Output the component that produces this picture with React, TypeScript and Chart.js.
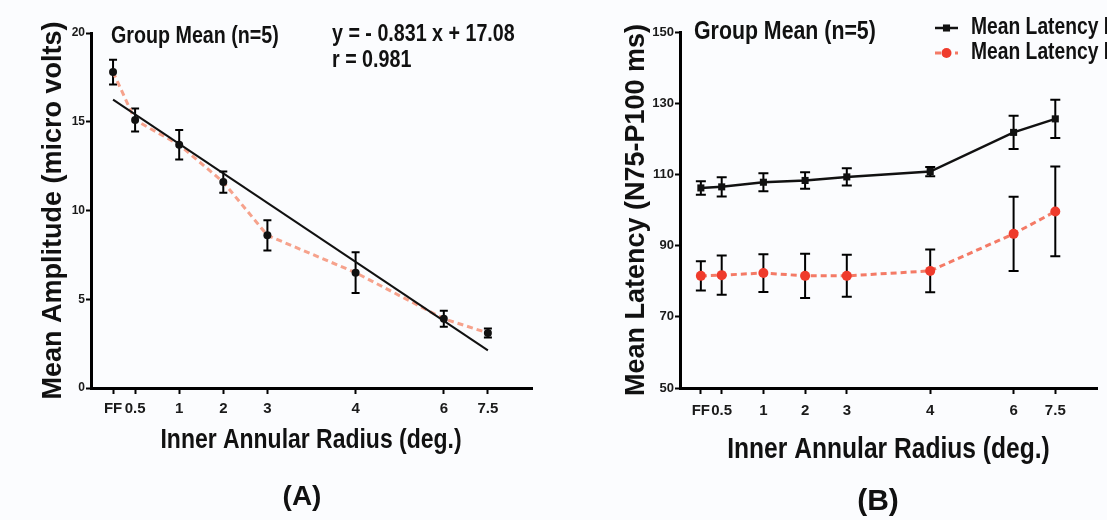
import React, { useEffect, useRef } from "react";
import { Chart, registerables } from "chart.js";

Chart.register(...registerables);

// ---------- data ----------
const radiusLabels = ["FF", "0.5", "1", "2", "3", "4", "6", "7.5"];
const radiusPositions = [1, 2, 4, 6, 8, 12, 16, 18];

const amplitudeMean = [17.8, 15.1, 13.7, 11.6, 8.6, 6.5, 3.9, 3.1];
const amplitudeErr = [0.7, 0.65, 0.83, 0.6, 0.85, 1.15, 0.45, 0.25];
const REG_SLOPE = -0.831;
const REG_INTERCEPT = 17.08;
const regressionX = [1, 18];

const latencyP100Mean = [106.2, 106.5, 107.8, 108.3, 109.3, 110.8, 121.8, 125.6];
const latencyP100Err = [1.9, 2.7, 2.5, 2.3, 2.4, 1.3, 4.7, 5.4];
const latencyN75Mean = [81.5, 81.7, 82.3, 81.5, 81.5, 82.9, 93.3, 99.6];
const latencyN75Err = [4.1, 5.5, 5.3, 6.2, 5.9, 6.0, 10.4, 12.6];

const amplitudeTicks = [0, 5, 10, 15, 20];
const latencyTicks = [50, 70, 90, 110, 130, 150];

// ---------- style ----------
const ARIAL = '"Liberation Sans", Arial, sans-serif';
const NARROW_SX = 0.82;
const BG = "#fbfcfe";

// ---------- plugins ----------
const errorBarPlugin = {
  id: "errorBars",
  beforeDatasetsDraw(chart: any) {
    const ctx = chart.ctx;
    const yScale = chart.scales.y;
    chart.data.datasets.forEach((ds: any, i: number) => {
      if (!ds.errors) return;
      const meta = chart.getDatasetMeta(i);
      ctx.save();
      ctx.strokeStyle = ds.errorColor || "#000";
      ctx.lineWidth = ds.errorWidth || 2;
      const cap = ds.capHalf || 4;
      meta.data.forEach((el: any, j: number) => {
        const v = ds.data[j].y;
        const e = ds.errors[j];
        const yt = yScale.getPixelForValue(v + e);
        const yb = yScale.getPixelForValue(v - e);
        const x = el.x;
        ctx.beginPath();
        ctx.moveTo(x, yt);
        ctx.lineTo(x, yb);
        ctx.moveTo(x - cap, yt);
        ctx.lineTo(x + cap, yt);
        ctx.moveTo(x - cap, yb);
        ctx.lineTo(x + cap, yb);
        ctx.stroke();
      });
      ctx.restore();
    });
  },
};

function drawText(ctx: any, it: any) {
  ctx.save();
  ctx.font = it.font;
  ctx.fillStyle = it.color || "#111";
  ctx.textAlign = it.align || "left";
  ctx.textBaseline = "middle";
  ctx.translate(it.x, it.y);
  ctx.scale(it.sx || 1, 1);
  ctx.fillText(it.text, 0, 0);
  ctx.restore();
}

const textPlugin = {
  id: "texts",
  afterDraw(chart: any, _args: any, opts: any) {
    (opts.items || []).forEach((it: any) => drawText(chart.ctx, it));
  },
};

const legendPlugin = {
  id: "floatLegend",
  afterDraw(chart: any, _args: any, opts: any) {
    if (!opts.display) return;
    const ctx = chart.ctx;
    chart.data.datasets.forEach((ds: any, i: number) => {
      const y = opts.y + i * opts.rowGap;
      const x0 = opts.x;
      const x1 = opts.x + opts.lineLength;
      ctx.save();
      ctx.strokeStyle = ds.borderColor;
      ctx.lineWidth = ds.borderWidth;
      ctx.setLineDash(ds.borderDash || []);
      ctx.beginPath();
      ctx.moveTo(x0, y);
      ctx.lineTo(x1, y);
      ctx.stroke();
      ctx.setLineDash([]);
      const cx = (x0 + x1) / 2;
      ctx.fillStyle = ds.pointBackgroundColor;
      if (ds.pointStyle === "rect") {
        const s = ds.pointRadius * Math.SQRT1_2;
        ctx.fillRect(cx - s, y - s, 2 * s, 2 * s);
      } else {
        ctx.beginPath();
        ctx.arc(cx, y, ds.pointRadius, 0, Math.PI * 2);
        ctx.fill();
      }
      ctx.restore();
      drawText(ctx, { text: ds.label, x: opts.textX, y, font: opts.font, sx: NARROW_SX });
    });
  },
};

function toPoints(vals: number[]) {
  return vals.map((v, i) => ({ x: radiusPositions[i], y: v }));
}

function xScale(height: number, pad: number) {
  return {
    type: "linear",
    min: 0,
    max: 20,
    afterBuildTicks: (s: any) => {
      s.ticks = radiusPositions.map((v) => ({ value: v }));
    },
    afterFit: (s: any) => {
      s.height = height;
    },
    ticks: {
      autoSkip: false,
      maxRotation: 0,
      padding: pad,
      color: "#1a1a1a",
      font: { family: ARIAL, size: 15, weight: "bold" },
      callback: (_v: any, i: number) => radiusLabels[i],
    },
    grid: {
      display: true,
      drawOnChartArea: false,
      drawTicks: true,
      tickLength: 6,
      tickWidth: 2,
      tickColor: "#000",
    },
    border: { display: true, color: "#000", width: 3 },
    title: { display: false },
  };
}

function yScale(min: number, max: number, ticks: number[], width: number, title: string, titlePad: number, tickSize: number) {
  return {
    type: "linear",
    min,
    max,
    afterBuildTicks: (s: any) => {
      s.ticks = ticks.map((v) => ({ value: v }));
    },
    afterFit: (s: any) => {
      s.width = width;
    },
    ticks: {
      padding: 1,
      color: "#1a1a1a",
      font: { family: ARIAL, size: tickSize, weight: "bold" },
    },
    grid: {
      display: true,
      drawOnChartArea: false,
      drawTicks: true,
      tickLength: 5,
      tickWidth: 2,
      tickColor: "#000",
    },
    border: { display: true, color: "#000", width: 3 },
    title: {
      display: true,
      text: title,
      color: "#111",
      font: { family: ARIAL, size: 27, weight: "bold" },
      padding: { top: titlePad, bottom: 0 },
    },
  };
}

function PanelA() {
  const ref = useRef<HTMLCanvasElement>(null);
  useEffect(() => {
    const chart = new Chart(ref.current as HTMLCanvasElement, {
      type: "line",
      data: {
        datasets: [
          {
            label: "Regression",
            data: regressionX.map((x) => ({ x, y: REG_SLOPE * x + REG_INTERCEPT })),
            borderColor: "#111",
            borderWidth: 2,
            pointRadius: 0,
            fill: false,
          },
          {
            label: "Mean Amplitude",
            data: toPoints(amplitudeMean),
            errors: amplitudeErr,
            capHalf: 4,
            borderColor: "#f6a28c",
            borderWidth: 3,
            borderDash: [6, 4],
            pointRadius: 4,
            pointBackgroundColor: "#111",
            pointBorderWidth: 0,
            fill: false,
          } as any,
        ],
      },
      options: {
        animation: false,
        responsive: false,
        maintainAspectRatio: false,
        layout: { padding: { left: 0, top: 33, right: 28, bottom: 0 } },
        scales: {
          x: xScale(132, 6) as any,
          y: yScale(0, 20, amplitudeTicks, 91, "Mean Amplitude (micro volts)", 37, 12) as any,
        },
        plugins: {
          legend: { display: false },
          tooltip: { enabled: false },
          texts: {
            items: [
              { text: "Group Mean (n=5)", x: 111, y: 36, font: `bold 24px ${ARIAL}`, sx: NARROW_SX },
              { text: "y = - 0.831 x + 17.08", x: 332, y: 34, font: `bold 24px ${ARIAL}`, sx: NARROW_SX },
              { text: "r = 0.981", x: 332, y: 60, font: `bold 24px ${ARIAL}`, sx: NARROW_SX },
              { text: "Inner Annular Radius (deg.)", x: 311, y: 440, font: `bold 28px ${ARIAL}`, sx: NARROW_SX, align: "center" },
              { text: "(A)", x: 302, y: 497, font: `bold 28px ${ARIAL}`, align: "center" },
            ],
          },
        } as any,
      },
      plugins: [errorBarPlugin, textPlugin],
    } as any);
    return () => chart.destroy();
  }, []);
  return (
    <canvas
      ref={ref}
      width={560}
      height={520}
      style={{ position: "absolute", left: 0, top: 0, width: 560, height: 520 }}
    />
  );
}

function PanelB() {
  const ref = useRef<HTMLCanvasElement>(null);
  useEffect(() => {
    const chart = new Chart(ref.current as HTMLCanvasElement, {
      type: "line",
      data: {
        datasets: [
          {
            label: "Mean Latency P100",
            data: toPoints(latencyP100Mean),
            errors: latencyP100Err,
            capHalf: 5,
            borderColor: "#111",
            borderWidth: 2.5,
            pointStyle: "rect",
            pointRadius: 5,
            pointBackgroundColor: "#111",
            pointBorderWidth: 0,
            fill: false,
          } as any,
          {
            label: "Mean Latency N75",
            data: toPoints(latencyN75Mean),
            errors: latencyN75Err,
            capHalf: 5,
            borderColor: "#f47a66",
            borderWidth: 3,
            borderDash: [6, 4],
            pointStyle: "circle",
            pointRadius: 5,
            pointBackgroundColor: "#ef3b2c",
            pointBorderWidth: 0,
            fill: false,
          } as any,
        ],
      },
      options: {
        animation: false,
        responsive: false,
        maintainAspectRatio: false,
        layout: { padding: { left: 0, top: 32, right: 163, bottom: 0 } },
        scales: {
          x: xScale(132, 8) as any,
          y: yScale(50, 150, latencyTicks, 120, "Mean Latency (N75-P100 ms)", 60, 13) as any,
        },
        plugins: {
          legend: { display: false },
          tooltip: { enabled: false },
          floatLegend: {
            display: true,
            x: 375,
            lineLength: 23,
            y: 28,
            rowGap: 25,
            textX: 411,
            font: `bold 23.5px ${ARIAL}`,
          },
          texts: {
            items: [
              { text: "Group Mean (n=5)", x: 134, y: 32, font: `bold 26px ${ARIAL}`, sx: NARROW_SX },
              { text: "Inner Annular Radius (deg.)", x: 328.5, y: 450, font: `bold 30px ${ARIAL}`, sx: NARROW_SX, align: "center" },
              { text: "(B)", x: 318, y: 502, font: `bold 30px ${ARIAL}`, align: "center" },
            ],
          },
        } as any,
      },
      plugins: [errorBarPlugin, textPlugin, legendPlugin],
    } as any);
    return () => chart.destroy();
  }, []);
  return (
    <canvas
      ref={ref}
      width={700}
      height={520}
      style={{ position: "absolute", left: 560, top: 0, width: 700, height: 520 }}
    />
  );
}

export default function App() {
  return (
    <div
      style={{
        position: "fixed",
        left: 0,
        top: 0,
        width: 1107,
        height: 520,
        overflow: "hidden",
        background: BG,
      }}
    >
      <PanelA />
      <PanelB />
    </div>
  );
}
